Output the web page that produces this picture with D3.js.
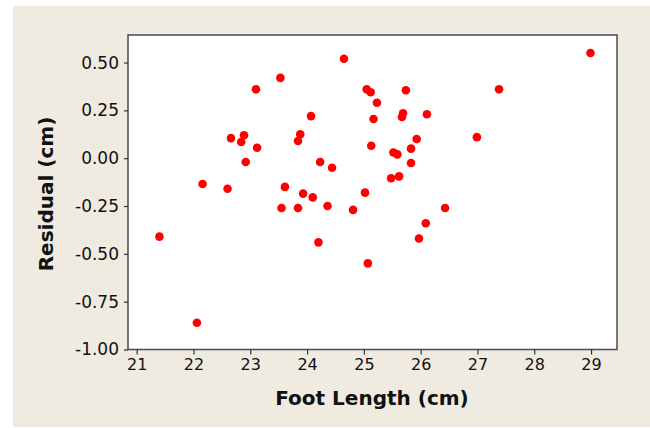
<!DOCTYPE html>
<html>
<head>
<meta charset="utf-8">
<script src="https://cdn.jsdelivr.net/npm/d3@7"></script>
<style>
  html, body { margin: 0; padding: 0; background: #ffffff; }
  svg { display: block; }
</style>
</head>
<body>
<svg id="chart" width="650" height="428"></svg>
<script>
const footLength = [24.65, 23.53, 23.10, 25.05, 25.12, 24.07, 22.66, 22.89, 22.84, 23.12,
  23.88, 23.84, 22.92, 24.23, 24.44, 22.16, 22.60, 23.61, 23.93, 24.10,
  25.02, 28.99, 25.74, 25.23, 27.38, 25.17, 25.69, 25.67, 26.11, 26.99,
  25.13, 25.93, 25.83, 25.52, 25.59, 25.83, 25.48, 25.62, 23.55, 23.84,
  24.36, 24.81, 21.40, 24.20, 25.07, 22.06, 26.43, 26.09, 25.97];
const residual = [0.52, 0.42, 0.36, 0.36, 0.345, 0.22, 0.105, 0.12, 0.085, 0.055,
  0.125, 0.09, -0.02, -0.02, -0.05, -0.135, -0.16, -0.15, -0.185, -0.205,
  -0.18, 0.55, 0.355, 0.29, 0.36, 0.205, 0.235, 0.215, 0.23, 0.11,
  0.065, 0.10, 0.05, 0.03, 0.02, -0.025, -0.105, -0.095, -0.26, -0.26,
  -0.25, -0.27, -0.41, -0.44, -0.55, -0.86, -0.26, -0.34, -0.42];
const xTicks = [21, 22, 23, 24, 25, 26, 27, 28, 29];
const yTicks = [0.50, 0.25, 0.00, -0.25, -0.50, -0.75, -1.00];
const xTitle = "Foot Length (cm)";
const yTitle = "Residual (cm)";

const svg = d3.select("#chart");
const L = 128, R = 617, T = 35, B = 349.5;

svg.append("rect").attr("x", 13).attr("y", 6).attr("width", 637).attr("height", 421)
  .attr("fill", "#efebe1");

const x = d3.scaleLinear().domain([20.847, 29.457]).range([L, R]);
const y = d3.scaleLinear().domain([-1.0, 0.644]).range([B, T]);

svg.append("rect").attr("x", L).attr("y", T).attr("width", R - L).attr("height", B - T)
  .attr("fill", "#ffffff").attr("stroke", "#4a4a4a").attr("stroke-width", 1.5);

const xAxis = svg.append("g").attr("transform", `translate(0,${B})`)
  .call(d3.axisBottom(x).tickValues(xTicks).tickFormat(d3.format("d")).tickSize(5).tickPadding(4));
xAxis.select(".domain").remove();
xAxis.selectAll("line").attr("stroke", "#333").attr("stroke-width", 1.2);
xAxis.selectAll("text").attr("font-family", "DejaVu Sans").attr("font-size", 16).attr("fill", "#111");

const yAxis = svg.append("g").attr("transform", `translate(${L},0)`)
  .call(d3.axisLeft(y).tickValues(yTicks).tickFormat(d3.format(".2f")).tickSize(4).tickPadding(5));
yAxis.select(".domain").remove();
yAxis.selectAll("line").attr("stroke", "#333").attr("stroke-width", 1.2);
yAxis.selectAll("text").attr("font-family", "DejaVu Sans").attr("font-size", 17).attr("fill", "#111")
  .text(d => d3.format(".2f")(d).replace("−", "-"));

svg.append("g").selectAll("circle").data(footLength).join("circle")
  .attr("cx", (d) => x(d)).attr("cy", (d, i) => y(residual[i]))
  .attr("r", 4.3).attr("fill", "#ff0000");

svg.append("text").attr("x", 372).attr("y", 405).attr("text-anchor", "middle")
  .attr("font-family", "DejaVu Sans").attr("font-weight", "bold").attr("font-size", 20)
  .attr("fill", "#111").text(xTitle);

svg.append("text").attr("transform", "translate(53,194) rotate(-90)").attr("text-anchor", "middle")
  .attr("font-family", "DejaVu Sans").attr("font-weight", "bold").attr("font-size", 20)
  .attr("fill", "#111").text(yTitle);
</script>
</body>
</html>
